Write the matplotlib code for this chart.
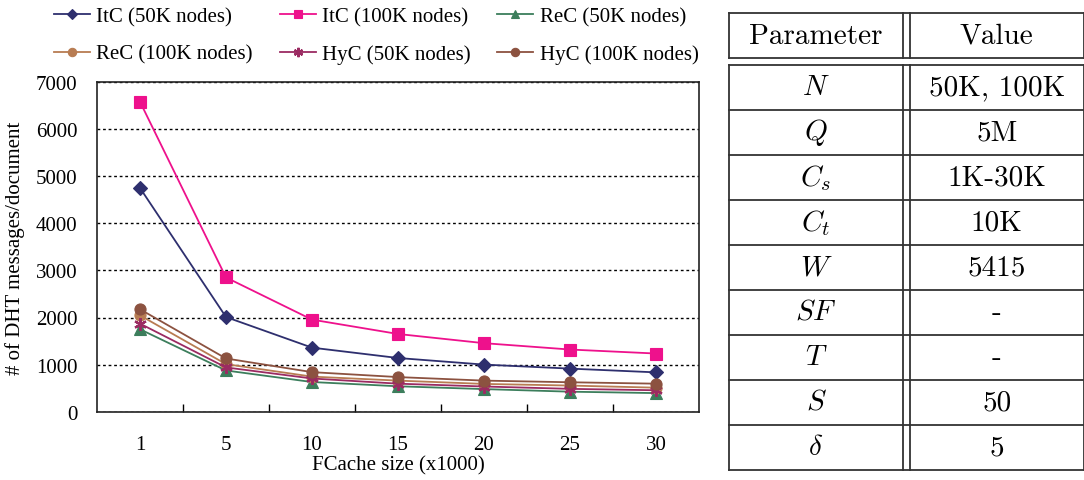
import matplotlib
matplotlib.use("Agg")
import matplotlib.pyplot as plt
from matplotlib.lines import Line2D

plt.rcParams['font.family'] = ['Liberation Serif', 'DejaVu Serif']
plt.rcParams['mathtext.fontset'] = 'cm'

# chart data
cache_sizes = ["1", "5", "10", "15", "20", "25", "30"]
itc_50k = [4750, 2010, 1360, 1140, 1000, 915, 835]
itc_100k = [6580, 2850, 1955, 1650, 1455, 1320, 1235]
rec_50k = [1750, 875, 630, 540, 480, 425, 395]
rec_100k = [2045, 1010, 745, 660, 590, 555, 510]
hyc_50k = [1870, 940, 705, 595, 535, 485, 455]
hyc_100k = [2175, 1130, 840, 735, 660, 625, 595]

series = [
    ("ItC (50K nodes)", itc_50k, "#2E2F6E", "D", 7),
    ("ItC (100K nodes)", itc_100k, "#EE118C", "s", 8),
    ("ReC (50K nodes)", rec_50k, "#3C7E5C", "^", 8),
    ("ReC (100K nodes)", rec_100k, "#B87C52", "o", 8),
    ("HyC (50K nodes)", hyc_50k, "#9B2B62", (6, 2, 0), 9),
    ("HyC (100K nodes)", hyc_100k, "#8C5240", "o", 8),
]

# table data
param_names = [r"$N$", r"$Q$", r"$C_s$", r"$C_t$", r"$W$", r"$SF$", r"$T$", r"$S$", r"$\delta$"]
param_values = ["50K, 100K", "5M", "1K-30K", "10K", "5415", "-", "-", "50", "5"]

W, H = 1084, 481
fig = plt.figure(figsize=(W / 100, H / 100), dpi=100)
ax = fig.add_axes([97 / W, 1 - 412.7 / H, (699 - 97) / W, (412.7 - 83) / H])

x = list(range(len(cache_sizes)))
handles = []
for label, vals, col, mk, ms in series:
    h, = ax.plot(x, vals, color=col, marker=mk, markersize=ms, linewidth=1.3,
                 markeredgewidth=1.6 if mk == (6, 2, 0) else 0.8, markeredgecolor=col,
                 label=label)
    handles.append(h)

ax.set_xlim(-0.5, 6.5)
ax.set_ylim(0, 7000)
ax.set_yticks(range(0, 7001, 1000))
ax.set_xticks(x)
ax.set_xticklabels(cache_sizes)
ax.set_xticks([i + 0.5 for i in range(6)], minor=True)
ax.tick_params(axis='x', which='major', length=0, pad=17, labelsize=15)
ax.tick_params(axis='x', which='minor', direction='in', length=6, width=1)
ax.tick_params(axis='y', length=0, pad=14, labelsize=15)
ax.yaxis.grid(True, linestyle=(0, (2, 2)), color='black', linewidth=1)
ax.set_axisbelow(True)
for s in ax.spines.values():
    s.set_linewidth(1.2)
    s.set_color('#222222')
ax.set_xlabel("FCache size (x1000)", fontsize=15, labelpad=1)
ax.set_ylabel("# of DHT messages/document", fontsize=15, labelpad=8)

# legend filled row by row like the original
order = [0, 3, 1, 4, 2, 5]
ax.legend([handles[i] for i in order], [series[i][0] for i in order],
          loc='upper left', bbox_to_anchor=(54 / W, 1 - 8 / H), bbox_transform=fig.transFigure,
          ncol=3, frameon=False, fontsize=15, handlelength=1.72, handletextpad=0.3,
          columnspacing=1.3, labelspacing=0.85, borderpad=0, borderaxespad=0,
          markerscale=0.75)

# parameter table drawn with lines
x0, xm1, xm2, x1 = 729, 903, 910, 1083.5
ytop, yh1, yh2 = 14, 59, 65.5
row_h = 45
lw = 1.3
lc = '#333333'

def fx(px):
    return px / W

def fy(py):
    return 1 - py / H

def hline(py, xa=x0, xb=x1):
    fig.add_artist(Line2D([fx(xa), fx(xb)], [fy(py), fy(py)], color=lc, lw=lw))

def vline(px, ya, yb):
    fig.add_artist(Line2D([fx(px), fx(px)], [fy(ya), fy(yb)], color=lc, lw=lw))

nrows = len(param_names)
ybot = yh2 + nrows * row_h
hline(ytop)
hline(yh1)
hline(yh2)
for i in range(1, nrows + 1):
    hline(yh2 + i * row_h)
for px in (x0, xm1, xm2, x1):
    vline(px, ytop, yh1)
    vline(px, yh2, ybot)

cx1 = (x0 + xm1) / 2
cx2 = (xm2 + x1) / 2
fig.text(fx(cx1), fy((ytop + yh1) / 2), "Parameter", family='cmr10', ha='center', va='center', fontsize=21)
fig.text(fx(cx2), fy((ytop + yh1) / 2), "Value", family='cmr10', ha='center', va='center', fontsize=21)
for i in range(nrows):
    yc = yh2 + (i + 0.5) * row_h
    fig.text(fx(cx1), fy(yc), param_names[i], ha='center', va='center', fontsize=21)
    fig.text(fx(cx2), fy(yc), param_values[i], family='cmr10', ha='center', va='center', fontsize=21)

fig.savefig("out.png", dpi=100)
